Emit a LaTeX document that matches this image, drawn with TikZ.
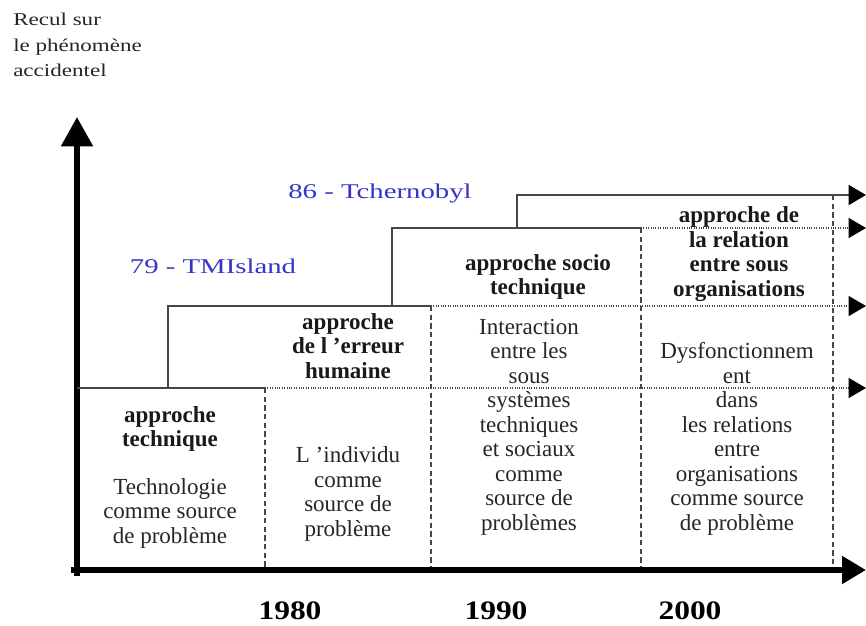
\documentclass[tikz,border=0pt]{standalone}
\usepackage{fontspec}
\setmainfont{Liberation Serif}
\newfontfamily\eventfont[FakeStretch=1.37]{Liberation Serif}
\newfontfamily\axisfont[FakeStretch=1.28]{Liberation Serif}
\newfontfamily\yearfont[FakeStretch=1.18]{Liberation Serif}
\usetikzlibrary{arrows.meta}

\definecolor{eventblue}{RGB}{52,52,200}
\definecolor{boxline}{RGB}{70,70,70}

\tikzset{
    axis/.style={line width=4.5pt, line cap=rect},
    stage/.style={line width=1.1pt, draw=boxline},
    limit/.style={line width=1.1pt, draw=boxline, dash pattern=on 4pt off 2.5pt},
    trend/.style={line width=0.8pt, draw=boxline, dash pattern=on 0.8pt off 1pt,
                  -{Triangle[length=13pt,width=15pt,color=black]}},
    lead/.style={line width=1.1pt, draw=boxline, -{Triangle[length=13pt,width=15pt,color=black]}},
    title/.style={inner sep=0, align=center, text=black!90,
                  font=\bfseries\fontsize{17.25}{18.4}\selectfont},
    body/.style={inner sep=0, align=center, text=black!85,
                 font=\fontsize{17.25}{18.4}\selectfont},
    event/.style={inner sep=0, text=eventblue, font=\eventfont\fontsize{15.75}{18}\selectfont},
    year/.style={inner sep=0, font=\yearfont\bfseries\fontsize{20}{22}\selectfont}
}

\begin{document}
\begin{tikzpicture}[x=0.75pt, y=-0.75pt]
    \useasboundingbox (0,0) rectangle (866,625);

    % Axes
    \coordinate (origin) at (77,570);
    \coordinate (yTip) at (77,117);
    \coordinate (xTip) at (866,570);
    \draw [axis, -{Triangle[length=22pt,width=23pt]}] (77,573) -- (yTip);
    \draw [axis, -{Triangle[length=18pt,width=20pt]}] (74,570) -- (xTip);
    \node [anchor=north west, align=left, inner sep=0, text=black!85,
           font=\axisfont\fontsize{13.5}{19}\selectfont] (recul) at (13,13)
           {Recul sur\\le phénomène\\accidentel};

    % Approche technique
    \coordinate (tech-nw) at (77,388);
    \coordinate (tech-ne) at (265,388);
    \coordinate (tech-se) at (265,567);
    \coordinate (tech-end) at (866,388);
    \draw [stage] (tech-nw) -- (tech-ne);
    \draw [limit] (tech-ne) -- (tech-se);
    \draw [trend] (tech-ne) -- (tech-end);

    % Erreur humaine
    \coordinate (hum-sw) at (168,388);
    \coordinate (hum-nw) at (168,306);
    \coordinate (hum-ne) at (431,306);
    \coordinate (hum-se) at (431,567);
    \coordinate (hum-end) at (866,306);
    \draw [stage] (hum-sw) -- (hum-nw) -- (hum-ne);
    \draw [limit] (hum-ne) -- (hum-se);
    \draw [trend] (hum-ne) -- (hum-end);

    % Socio technique
    \coordinate (soc-sw) at (392,306);
    \coordinate (soc-nw) at (392,228);
    \coordinate (soc-ne) at (641,228);
    \coordinate (soc-se) at (641,567);
    \coordinate (soc-end) at (866,228);
    \draw [stage] (soc-sw) -- (soc-nw) -- (soc-ne);
    \draw [limit] (soc-ne) -- (soc-se);
    \draw [trend] (soc-ne) -- (soc-end);

    % Relation entre organisations
    \coordinate (org-sw) at (517,228);
    \coordinate (org-nw) at (517,195);
    \coordinate (org-end) at (866,195);
    \coordinate (org-top) at (833,195);
    \coordinate (org-se) at (833,567);
    \draw [lead] (org-sw) -- (org-nw) -- (org-end);
    \draw [limit] (org-top) -- (org-se);

    % Texts
    \node [title] (techTitle) at (170,429) {approche\\technique};
    \node [body] (techBody) at (170,513) {Technologie\\comme source\\de problème};
    \node [title] (humTitle) at (348,346) {approche\\de l ’erreur\\humaine};
    \node [body] (humBody) at (348,494) {L ’individu\\comme\\source de\\problème};
    \node [title] (socTitle) at (538,277) {approche socio\\technique};
    \node [body] (socBody) at (529,427) {Interaction\\entre les\\sous\\systèmes\\techniques\\et sociaux\\comme\\source de\\problèmes};
    \node [title] (orgTitle) at (739,254) {approche de\\la relation\\entre sous\\organisations};
    \node [body] (orgBody) at (737,439) {Dysfonctionnem\\ent\\dans\\les relations\\entre\\organisations\\comme source\\de problème};

    % Events
    \node [event] (tmi) at (213,266) {79 - TMIsland};
    \node [event] (tchernobyl) at (380,193) {86 - Tchernobyl};

    % Years
    \node [year] (y1980) at (290,611) {1980};
    \node [year] (y1990) at (496,611) {1990};
    \node [year] (y2000) at (690,611) {2000};
\end{tikzpicture}
\end{document}
